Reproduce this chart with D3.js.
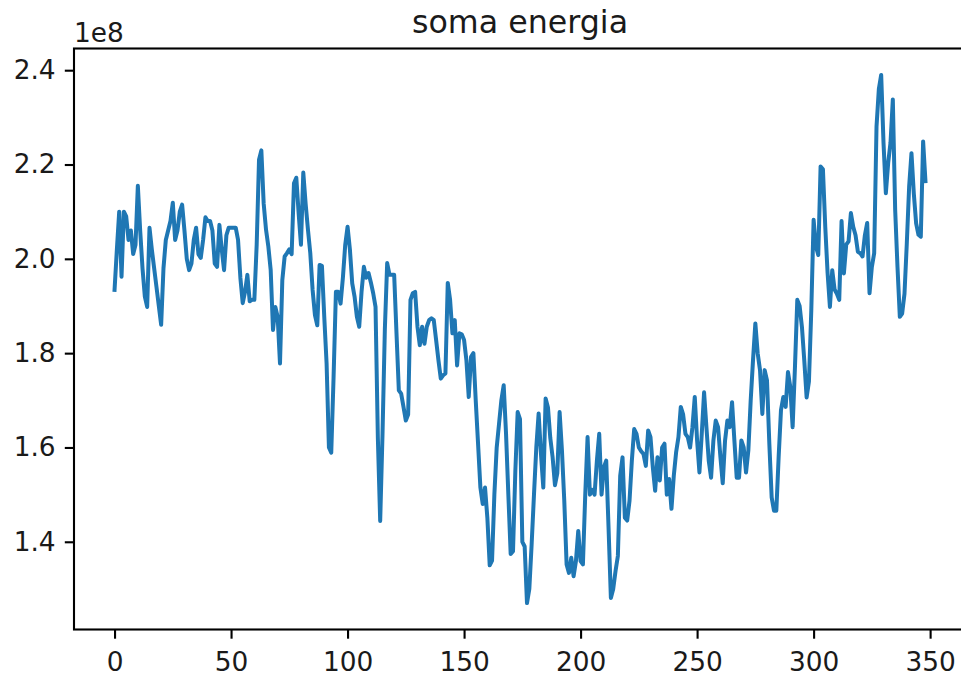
<!DOCTYPE html>
<html>
<head>
<meta charset="utf-8">
<script src="https://cdn.jsdelivr.net/npm/d3@7/dist/d3.min.js"></script>
<style>
  html, body { margin: 0; padding: 0; background: #fff; }
  svg { display: block; }
  text { font-family: "DejaVu Sans", sans-serif; fill: #1a1a1a; }
</style>
</head>
<body>
<svg id="chart" width="961" height="677"></svg>
<script>
// Daily energy sum, in units of 1e8 (offset label shown above the y axis)
const somaEnergia = [
  1.934, 2.02, 2.10, 1.962, 2.10, 2.09, 2.04, 2.06, 2.01, 2.03,
  2.155, 2.06, 1.98, 1.92, 1.898, 2.066, 2.02, 1.98, 1.94, 1.90,
  1.86, 1.98, 2.04, 2.06, 2.08, 2.119, 2.04, 2.06, 2.10, 2.115,
  2.06, 2.00, 1.976, 1.99, 2.04, 2.066, 2.01, 2.002, 2.04, 2.088,
  2.08, 2.08, 2.06, 1.99, 1.983, 2.072, 2.02, 1.976, 2.05, 2.066,
  2.066, 2.066, 2.066, 2.04, 1.96, 1.906, 1.93, 1.966, 1.91, 1.913,
  1.913, 2.03, 2.21, 2.23, 2.117, 2.062, 2.026, 1.977, 1.849, 1.898,
  1.877, 1.778, 1.955, 2.005, 2.012, 2.02, 2.01, 2.16, 2.172, 2.097, 2.03,
  2.183, 2.117, 2.062, 2.012, 1.934, 1.881, 1.859, 1.987, 1.985, 1.877,
  1.778, 1.60, 1.589, 1.75, 1.93, 1.93, 1.905, 1.96, 2.03, 2.068,
  2.02, 1.948, 1.92, 1.877, 1.856, 1.93, 1.983, 1.96, 1.97, 1.95,
  1.927, 1.898, 1.62, 1.444, 1.629, 1.85, 1.991, 1.966, 1.966, 1.966,
  1.842, 1.721, 1.714, 1.686, 1.657, 1.67, 1.913, 1.927, 1.93, 1.856,
  1.817, 1.856, 1.82, 1.856, 1.87, 1.874, 1.87, 1.828, 1.785, 1.746,
  1.753, 1.757, 1.949, 1.913, 1.842, 1.87, 1.774, 1.842, 1.84, 1.828,
  1.785, 1.707, 1.792, 1.80, 1.70, 1.608, 1.515, 1.48, 1.515, 1.45,
  1.35, 1.36, 1.50, 1.60, 1.65, 1.70, 1.732, 1.63, 1.50, 1.374,
  1.38, 1.55, 1.675, 1.66, 1.40, 1.39, 1.27, 1.30, 1.395, 1.50,
  1.60, 1.672, 1.586, 1.515, 1.704, 1.685, 1.62, 1.579, 1.52, 1.545,
  1.675, 1.594, 1.487, 1.352, 1.334, 1.366, 1.327, 1.359, 1.423, 1.359,
  1.352, 1.50, 1.622, 1.50, 1.51, 1.50, 1.572, 1.629, 1.50, 1.558,
  1.572, 1.43, 1.281, 1.30, 1.338, 1.37, 1.54, 1.579, 1.451, 1.445,
  1.487, 1.572, 1.639, 1.629, 1.60, 1.592, 1.586, 1.561, 1.636, 1.622, 1.558,
  1.508, 1.579, 1.53, 1.60, 1.608, 1.50, 1.533, 1.47, 1.54, 1.59,
  1.622, 1.686, 1.67, 1.629, 1.622, 1.60, 1.643, 1.707, 1.615, 1.547,
  1.629, 1.717, 1.643, 1.572, 1.536, 1.615, 1.657, 1.643, 1.58, 1.524,
  1.615, 1.657, 1.643, 1.696, 1.615, 1.536, 1.536, 1.615, 1.60, 1.547,
  1.594, 1.70, 1.785, 1.863, 1.80, 1.764, 1.671, 1.764, 1.742, 1.608,
  1.494, 1.466, 1.466, 1.58, 1.679, 1.707, 1.686, 1.76, 1.728, 1.643,
  1.771, 1.913, 1.90, 1.855, 1.784, 1.706, 1.74, 1.89, 2.083, 2.026,
  2.008, 2.196, 2.19, 2.068, 1.97, 1.898, 1.976, 1.935, 1.926, 1.913,
  2.08, 1.969, 2.03, 2.037, 2.097, 2.068, 2.05, 2.015, 2.012, 2.005,
  2.05, 2.076, 1.927, 1.983, 2.012, 2.281, 2.36, 2.39, 2.246, 2.139,
  2.203, 2.246, 2.338, 2.104, 1.983, 1.877, 1.884, 1.926, 2.033, 2.153,
  2.224, 2.139, 2.075, 2.051, 2.047, 2.249, 2.165
];
const dias = d3.range(somaEnergia.length);

const xTicks = [0, 50, 100, 150, 200, 250, 300, 350];
const yTicks = [1.4, 1.6, 1.8, 2.0, 2.2, 2.4];
const titulo = "soma energia";
const offsetLabel = "1e8";

const svg = d3.select("#chart");
const plot = { left: 74, right: 966, top: 48.5, bottom: 629.5 };
const tickFont = "26.4px";
const tickLen = 9.2;

// Axis limits with a 5% margin on each side of the data
const n = dias.length;
const x = d3.scaleLinear()
  .domain([-0.05 * (n - 1), 1.05 * (n - 1)])
  .range([plot.left, plot.right]);

const [yMin, yMax] = d3.extent(somaEnergia);
const yPad = 0.05 * (yMax - yMin);
const y = d3.scaleLinear()
  .domain([yMin - yPad, yMax + yPad])
  .range([plot.bottom, plot.top]);

// Series line
const line = d3.line()
  .x((d, i) => x(dias[i]))
  .y(d => y(d));

svg.append("path")
  .datum(somaEnergia)
  .attr("d", line)
  .attr("fill", "none")
  .attr("stroke", "#1f77b4")
  .attr("stroke-width", 4)
  .attr("stroke-linejoin", "round")
  .attr("stroke-linecap", "square");

// Axes
const xAxis = d3.axisBottom(x)
  .tickValues(xTicks)
  .tickFormat(d3.format("d"))
  .tickSize(tickLen)
  .tickPadding(13.6);

const gx = svg.append("g")
  .attr("transform", `translate(0,${plot.bottom})`)
  .call(xAxis);

const yAxis = d3.axisLeft(y)
  .tickValues(yTicks)
  .tickFormat(d3.format(".1f"))
  .tickSize(tickLen)
  .tickPadding(9.2);

const gy = svg.append("g")
  .attr("transform", `translate(${plot.left},0)`)
  .call(yAxis);

[gx, gy].forEach(g => {
  g.select(".domain").remove();
  g.selectAll(".tick line").attr("stroke", "#000").attr("stroke-width", 2.1);
  g.selectAll(".tick text")
    .style("font-family", "'DejaVu Sans', sans-serif")
    .style("font-size", tickFont)
    .attr("fill", "#1a1a1a");
});

// Frame
svg.append("rect")
  .attr("x", plot.left)
  .attr("y", plot.top)
  .attr("width", plot.right - plot.left)
  .attr("height", plot.bottom - plot.top)
  .attr("fill", "none")
  .attr("stroke", "#000")
  .attr("stroke-width", 2.1);

// Offset text for the y values
svg.append("text")
  .attr("x", plot.left)
  .attr("y", 42)
  .style("font-size", tickFont)
  .text(offsetLabel);

// Title
svg.append("text")
  .attr("x", (x(-0.05 * (n - 1)) + x(1.05 * (n - 1))) / 2)
  .attr("y", 33)
  .attr("text-anchor", "middle")
  .style("font-size", "31.7px")
  .text(titulo);
</script>
</body>
</html>
